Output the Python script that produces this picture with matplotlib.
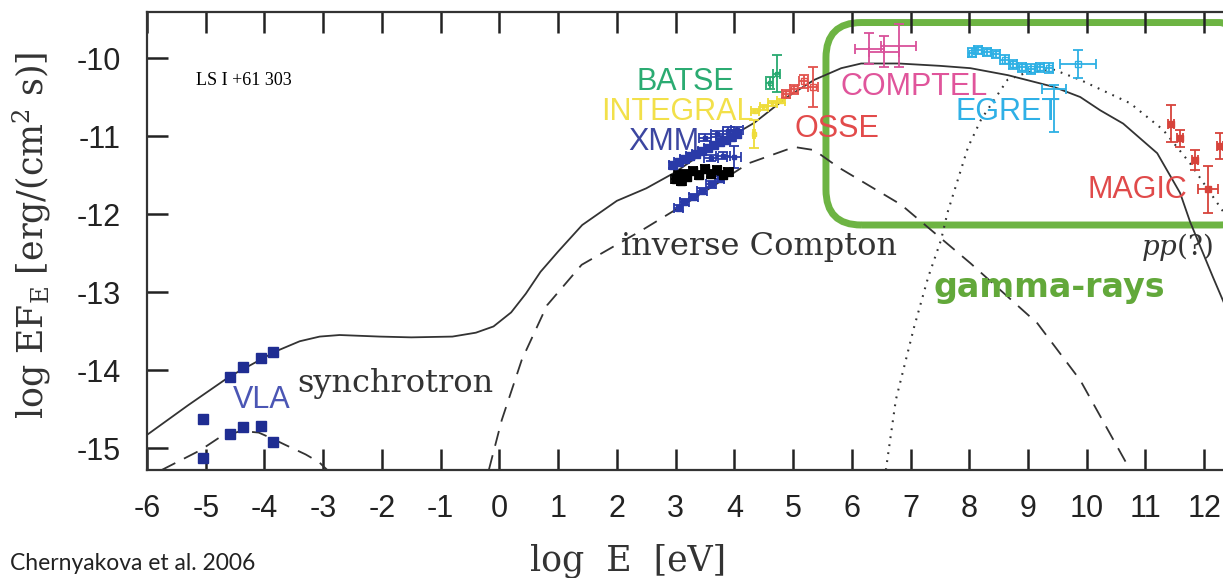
import matplotlib.pyplot as plt
from matplotlib.patches import FancyBboxPatch

plt.rcParams['axes.unicode_minus'] = False
plt.rcParams['mathtext.fontset'] = 'dejavuserif'
plt.rcParams['lines.scale_dashes'] = False

# model curves (log E [eV], log EF_E)
total_x = [-6.0, -5.3, -4.59, -3.81, -3.4, -3.06, -2.72, -2.04, -1.5, -0.8, -0.4, -0.1, 0.2,
           0.45, 0.7, 1.0, 1.41, 2.0, 2.5, 2.98, 3.5, 4.0, 4.34, 4.9, 5.36, 5.82, 6.16, 6.8,
           7.5, 8.02, 8.66, 9.44, 9.89, 10.23, 10.62, 11.2, 11.59, 11.76, 12.15, 12.4]
total_y = [-14.83, -14.45, -14.08, -13.76, -13.63, -13.57, -13.55, -13.57, -13.58, -13.57,
           -13.52, -13.44, -13.26, -13.02, -12.74, -12.48, -12.14, -11.83, -11.67, -11.47,
           -11.2, -10.98, -10.83, -10.5, -10.28, -10.13, -10.07, -10.07, -10.1, -10.13,
           -10.22, -10.37, -10.5, -10.67, -10.84, -11.22, -11.73, -12.1, -12.81, -13.25]

sync_x = [-5.75, -5.1, -4.76, -4.4, -4.1, -3.86, -3.64, -3.3, -3.07, -2.93]
sync_y = [-15.28, -15.03, -14.86, -14.78, -14.8, -14.88, -14.96, -15.08, -15.18, -15.28]

ic_x = [-0.18, 0.04, 0.38, 0.81, 1.4, 2.42, 3.27, 4.24, 5.02, 5.36, 5.77, 6.84, 8.02,
        9.16, 9.89, 10.74]
ic_y = [-15.28, -14.64, -13.87, -13.17, -12.65, -12.21, -11.82, -11.35, -11.14, -11.18,
        -11.4, -11.88, -12.63, -13.4, -14.13, -15.28]

pp_x = [6.58, 6.75, 7.06, 7.3, 7.52, 7.63, 7.98, 8.2, 8.65, 9.0, 9.44, 9.89, 10.74, 11.3,
        11.76, 12.27, 12.4]
pp_y = [-15.28, -14.38, -13.45, -12.81, -12.33, -11.98, -11.14, -10.79, -10.28, -10.18,
        -10.15, -10.28, -10.58, -10.92, -11.35, -11.91, -12.05]

# observations
vla_x = [-4.59, -4.37, -4.06, -3.86, -5.05, -4.59, -4.37, -4.06, -3.86, -5.05]
vla_y = [-14.09, -13.96, -13.85, -13.77, -14.62, -14.82, -14.73, -14.72, -14.92, -15.12]

xmm_hi_x = [2.95, 3.05, 3.15, 3.25, 3.35, 3.45, 3.55, 3.65, 3.75, 3.85, 3.95, 4.05]
xmm_hi_y = [-11.37, -11.33, -11.30, -11.26, -11.23, -11.19, -11.15, -11.12, -11.08, -11.05,
            -11.01, -10.98]
xmm_top_x = [3.5, 3.7, 3.9, 4.05]
xmm_top_y = [-11.02, -10.97, -10.93, -10.92]
xmm_mid_x = [3.6, 3.8, 4.0]
xmm_mid_y = [-11.28, -11.25, -11.27]
xmm_mid_yerr = [0.04, 0.04, 0.14]
xmm_low_x = [3.05, 3.15, 3.3, 3.45, 3.6, 3.75]
xmm_low_y = [-11.92, -11.85, -11.78, -11.7, -11.62, -11.55]

blk_x = [3.0, 3.05, 3.1, 3.15, 3.2, 3.3, 3.4, 3.5, 3.6, 3.7, 3.8, 3.9]
blk_y = [-11.55, -11.5, -11.58, -11.48, -11.52, -11.45, -11.5, -11.42, -11.48, -11.44,
         -11.5, -11.46]

integral_x = [4.35, 4.5, 4.65, 4.8, 4.33]
integral_y = [-10.68, -10.63, -10.58, -10.55, -10.97]
integral_xerr = [0.07, 0.07, 0.07, 0.07, 0.02]
integral_yerr = [0.03, 0.03, 0.03, 0.03, 0.18]

batse_x = [4.6, 4.72]
batse_y = [-10.32, -10.2]
batse_yerr = [0.08, 0.24]

osse_x = [4.88, 5.02, 5.18, 5.34]
osse_y = [-10.46, -10.4, -10.3, -10.37]
osse_xerr = [0.07, 0.07, 0.08, 0.08]
osse_yerr = [0.05, 0.06, 0.08, 0.26]

comptel_x = [6.3, 6.55, 6.8]
comptel_y = [-9.88, -9.92, -9.84]
comptel_xerr = [0.25, 0.25, 0.3]
comptel_yerr = [0.2, 0.2, 0.27]

egret_x = [8.05, 8.15, 8.3, 8.45, 8.6, 8.75, 8.9, 9.05, 9.2, 9.35, 9.85]
egret_y = [-9.93, -9.9, -9.92, -9.95, -10.02, -10.08, -10.12, -10.14, -10.12, -10.13, -10.08]
egret_xerr = [0.07, 0.07, 0.07, 0.07, 0.07, 0.07, 0.07, 0.07, 0.07, 0.07, 0.3]
egret_yerr = [0.06, 0.05, 0.05, 0.05, 0.06, 0.06, 0.06, 0.06, 0.06, 0.06, 0.18]
egret_ul_x = [9.44]
egret_ul_y = [-10.4]

magic_x = [11.43, 11.59, 11.84, 12.07, 12.27]
magic_y = [-10.84, -11.03, -11.31, -11.68, -11.13]
magic_xerr = [0.05, 0.05, 0.05, 0.17, 0.05]
magic_yerr = [0.24, 0.11, 0.13, 0.3, 0.17]

fig = plt.figure(figsize=(12.23, 5.78), dpi=100)
ax = fig.add_axes([147/1223, 1 - 470/578, 1 - 147/1223, 458/578])

line_col = '#333333'
ax.plot(total_x, total_y, color=line_col, lw=1.3, zorder=3)
ax.plot(sync_x, sync_y, color=line_col, lw=1.3, dashes=(11, 7), zorder=3)
ax.plot(ic_x, ic_y, color=line_col, lw=1.3, dashes=(11, 7), zorder=3)
ax.plot(pp_x, pp_y, color=line_col, lw=1.5, dashes=(1.3, 4.5), zorder=3)

# gamma-ray band
box = FancyBboxPatch((5.56, -12.14), 7.3, 2.595,
                     boxstyle='round,pad=0,rounding_size=0.6', mutation_aspect=0.755,
                     fill=False, ec='#6db443', lw=5, zorder=1)
ax.add_patch(box)

eb = dict(ls='none', capsize=3.5, elinewidth=1.3, capthick=1.3, zorder=4)
ax.plot(vla_x, vla_y, 's', color='#1f2d92', ms=7, zorder=4)

ax.errorbar(xmm_hi_x, xmm_hi_y, xerr=0.07, yerr=0.04, marker='s', ms=6, color='#2a3aa8', **eb)
ax.errorbar(xmm_top_x, xmm_top_y, xerr=0.1, yerr=0.04, marker='s', ms=3, color='#2a3aa8', **eb)
ax.errorbar(xmm_mid_x, xmm_mid_y, xerr=0.12, yerr=xmm_mid_yerr, marker='s', ms=3,
            color='#2a3aa8', **eb)
ax.errorbar(xmm_low_x, xmm_low_y, xerr=0.08, yerr=0.04, marker='s', ms=4, color='#2a3aa8', **eb)
ax.errorbar(blk_x, blk_y, xerr=0.07, yerr=0.05, marker='s', ms=6, color='black', **eb)

ax.errorbar(integral_x, integral_y, xerr=integral_xerr, yerr=integral_yerr, marker='s', ms=3,
            mfc='none', color='#eedc3a', **eb)
ax.errorbar(batse_x, batse_y, xerr=0.06, yerr=batse_yerr, marker='s', ms=3, mfc='none',
            color='#27a970', **eb)
ax.errorbar(osse_x, osse_y, xerr=osse_xerr, yerr=osse_yerr, marker='s', ms=5, mfc='none',
            color='#e2524c', **eb)
ax.errorbar(comptel_x, comptel_y, xerr=comptel_xerr, yerr=comptel_yerr, marker='none',
            color='#d9509a', **eb)
ax.errorbar(egret_x, egret_y, xerr=egret_xerr, yerr=egret_yerr, marker='s', ms=5, mfc='none',
            color='#2db0e4', **eb)
ax.errorbar(egret_ul_x, egret_ul_y, xerr=0.2, yerr=[[0.55], [0.05]], marker='none',
            color='#2db0e4', **eb)
ax.errorbar(magic_x, magic_y, xerr=magic_xerr, yerr=magic_yerr, marker='s', ms=4,
            color='#d7433b', **eb)

lab = dict(family='Liberation Sans', fontsize=22, ha='left', va='baseline', zorder=5)
ax.text(2.34, -10.41, 'BATSE', color='#2bab72', **lab)
ax.text(1.73, -10.795, 'INTEGRAL', color='#f2e04a', **lab)
ax.text(2.19, -11.18, 'XMM', color='#3c46a0', **lab)
ax.text(5.03, -11.01, 'OSSE', color='#e24b4b', **lab)
ax.text(5.80, -10.47, 'COMPTEL', color='#e0559b', **lab)
ax.text(7.76, -10.795, 'EGRET', color='#2fb0e6', **lab)
ax.text(10.02, -11.795, 'MAGIC', color='#e04a4a', **lab)
ax.text(-4.54, -14.49, 'VLA', color='#4b56b4', **lab)

ser = dict(family='DejaVu Serif', fontsize=23, ha='left', va='baseline', color='#333333')
ax.text(-3.45, -14.28, 'synchrotron', **ser)
ax.text(2.07, -12.525, 'inverse Compton', **ser)
ax.text(10.93, -12.525, r'$pp$(?)', family='DejaVu Serif', fontsize=20, ha='left',
        va='baseline', color='#333333')
ax.text(9.36, -13.06, 'gamma-rays', family='DejaVu Sans', fontweight='bold', fontsize=24,
        color='#62a83a', ha='center', va='baseline')
ax.text(-5.17, -10.345, 'LS I +61 303', family='Liberation Serif', fontsize=13,
        ha='left', va='baseline')

ax.set_xlim(-6, 12.32)
ax.set_ylim(-15.28, -9.41)
ax.set_xticks(range(-6, 13))
ax.set_yticks([-10, -11, -12, -13, -14, -15])
ax.xaxis.set_ticks_position('both')
ax.yaxis.set_ticks_position('left')
ax.tick_params(axis='both', which='major', direction='in', length=15, width=1.8,
               color='#222222', labelsize=22, labelcolor='#222222')
ax.tick_params(axis='x', pad=17, labeltop=False, labelbottom=True)
ax.tick_params(axis='y', pad=19)
for lbl in ax.get_xticklabels() + ax.get_yticklabels():
    lbl.set_family('Liberation Sans')
ax.spines['right'].set_visible(False)
for s in ['left', 'bottom', 'top']:
    ax.spines[s].set_linewidth(1.6)
    ax.spines[s].set_color('#333333')

fig.text(628/1223, 1 - 570/578, 'log  E  [eV]', family='DejaVu Serif', fontsize=25,
         ha='center', va='baseline', color='#333333')
fig.text(32/1223, 1 - 235/578, r'log EF$_\mathrm{E}$ [erg/(cm$^2$ s)]', family='DejaVu Serif',
         fontsize=25, rotation=90, ha='center', va='center', color='#333333')
fig.text(10/1223, 1 - 570/578, 'Chernyakova et al. 2006', family='Lato', fontsize=16.5,
         ha='left', va='baseline', color='#222222')

fig.savefig('out.png', dpi=100)
